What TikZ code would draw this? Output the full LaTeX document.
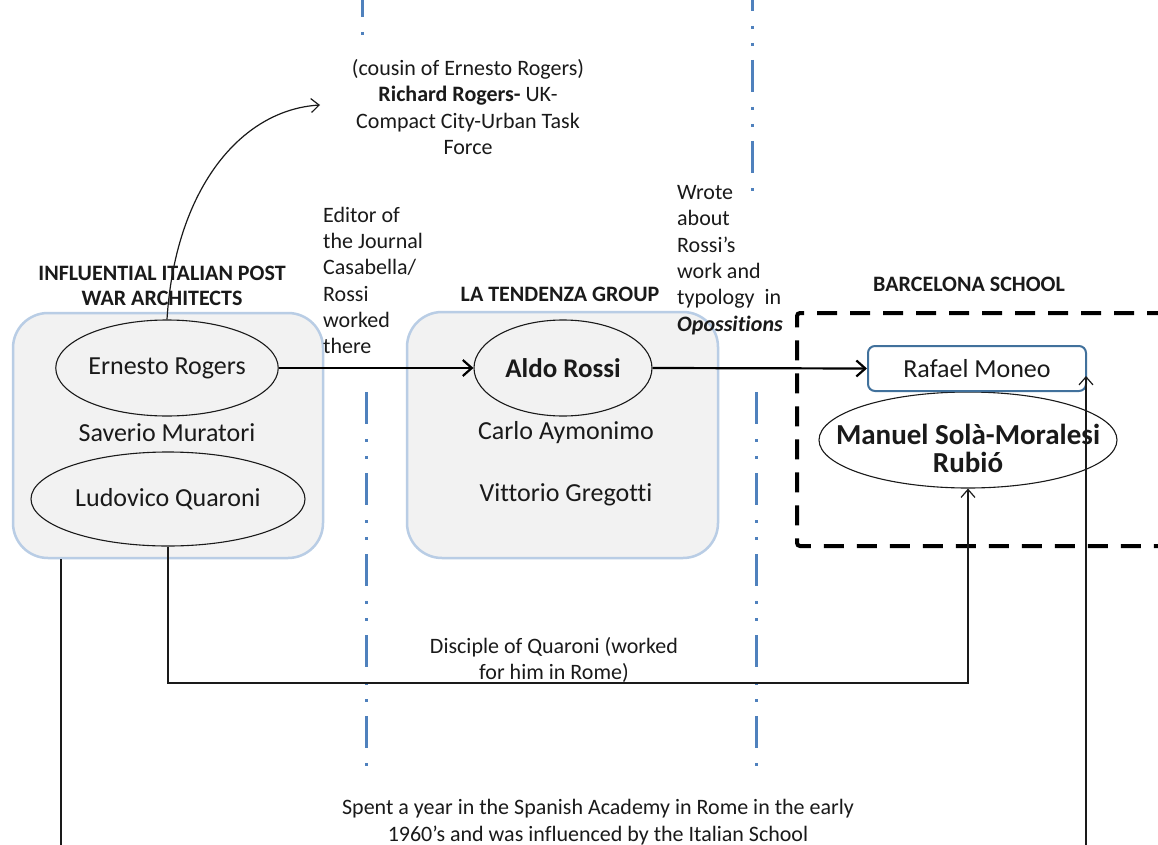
\documentclass[tikz,border=0pt]{standalone}
\usepackage{fontspec}
\setmainfont{Carlito}[Ligatures=NoCommon]
\usetikzlibrary{shapes.geometric,arrows.meta,calc}
\definecolor{grpfill}{HTML}{F2F2F2}
\definecolor{grpborder}{HTML}{B9CDE5}
\definecolor{sepblue}{HTML}{4F81BD}
\definecolor{rafborder}{HTML}{41719C}
\definecolor{ink}{HTML}{1A1A1A}
\begin{document}
\begin{tikzpicture}[x=1pt,y=-1pt,
  every node/.style={text=ink},
  ann/.style={font=\fontsize{22}{26.3}\selectfont, inner sep=0pt},
  ttl/.style={font=\fontsize{22}{25}\selectfont\bfseries, inner sep=0pt, align=center},
  nm/.style={font=\fontsize{26}{30}\selectfont, inner sep=0pt},
  grp/.style={draw=grpborder, line width=2.5pt, fill=grpfill, rounded corners=35pt, inner sep=0pt},
  pers/.style={ellipse, draw=ink, line width=1.1pt, inner sep=0pt, font=\fontsize{26}{30}\selectfont},
  sep/.style={draw=sepblue, line width=3pt, dash pattern=on 32pt off 15pt on 3pt off 14pt on 3pt off 14pt},
  main/.style={draw=black, line width=2.2pt, -{Straight Barb[length=9pt,width=16pt]}},
  thin/.style={draw=ink, line width=1.2pt, -{Straight Barb[length=8pt,width=14pt]}},
  bcn/.style={draw=black, line width=4pt, dash pattern=on 20pt off 13pt, rounded corners=3pt},
]
\useasboundingbox (0,0) rectangle (1158,845);
\fill[white] (0,0) rectangle (1158,845);
\clip (0,0) rectangle (1158,845);

% separators
\draw[sep] (362,-15) -- (362,35);
\draw[sep] (752,-21) -- (752,191);
\draw[sep] (366,392) -- (366,766);
\draw[sep] (756,392) -- (756,766);

% groups
\node[grp, minimum width=310pt, minimum height=245pt] (lgrp) at (168,435.5) {};
\node[grp, minimum width=311pt, minimum height=246pt] (mgrp) at (562.5,435) {};
\draw[bcn] (1200,313) -- (797,313) -- (797,546) -- (1200,546);

% titles
\node[ttl] (t1) at (162,285.5) {INFLUENTIAL ITALIAN POST\\WAR ARCHITECTS};
\node[ttl] (t2) at (560,294) {LA TENDENZA GROUP};
\node[ttl] (t3) at (969,284) {BARCELONA SCHOOL};

% people
\node[pers, fill=grpfill, minimum width=176pt, minimum height=96pt] (ern) at (167,368) {Ernesto Rogers};
\node[nm] (sav) at (167,433) {Saverio Muratori};
\node[pers, fill=grpfill, minimum width=274pt, minimum height=94pt] (lud) at (168,499) {Ludovico Quaroni};
\node[pers, fill=grpfill, minimum width=178pt, minimum height=96pt, font=\fontsize{27}{30}\selectfont\bfseries] (ald) at (563,368) {Aldo Rossi};
\node[nm] (car) at (566,433) {Carlo Aymonimo};
\node[nm] (vit) at (566,495) {Vittorio Gregotti};
\node[pers, fill=white, minimum width=298pt, minimum height=96pt] (man) at (968,440) {};
\node[font=\fontsize{29}{28}\selectfont\bfseries, align=center, inner sep=0pt] (mantxt) at (968,448) {Manuel Solà-Moralesi\\Rubió};
\node[nm, draw=rafborder, line width=2pt, fill=white, rounded corners=7pt, minimum width=218pt, minimum height=45pt] (raf) at (977,368.5) {Rafael Moneo\hspace{20pt}};

% annotations
\node[ann, align=center] (rr) at (468,107) {(cousin of Ernesto Rogers)\\\textbf{Richard Rogers-} UK-\\Compact City-Urban Task\\Force};
\node[ann, align=left, anchor=west] (ed) at (323,280.5) {Editor of\\the Journal\\Casabella/\\Rossi\\worked\\there};
\node[ann, align=left, anchor=west] (wr) at (677,260) {Wrote\\about\\Rossi’s\\work and\\typology\ \ in\\\textbf{\textit{Opossitions}}};
\node[ann, align=center] (dis) at (554,660) {Disciple of Quaroni (worked\\for him in Rome)};
\node[ann, align=center] (spe) at (598,822) {Spent a year in the Spanish Academy in Rome in the early\\1960’s and was influenced by the Italian School};

% connectors
\draw[main] (ern.east) -- (ald.west);
\draw[main] (ald.east) -- (raf.west);
\coordinate (rrin) at (320,105);
\draw[thin] (ern.north) .. controls (175,190) and (240,110) .. (rrin);
\coordinate (dl) at (0,683);
\draw[thin] (lud.south) -- (lud.south |- dl) -| (man.south);
\coordinate (sl) at (61,880);
\coordinate (sr) at (1086,880);
\coordinate (rafin) at (1086,376);
\draw[thin] (lgrp.south -| sl) -- (sl) -- (sr) -- (rafin);
\end{tikzpicture}
\end{document}
